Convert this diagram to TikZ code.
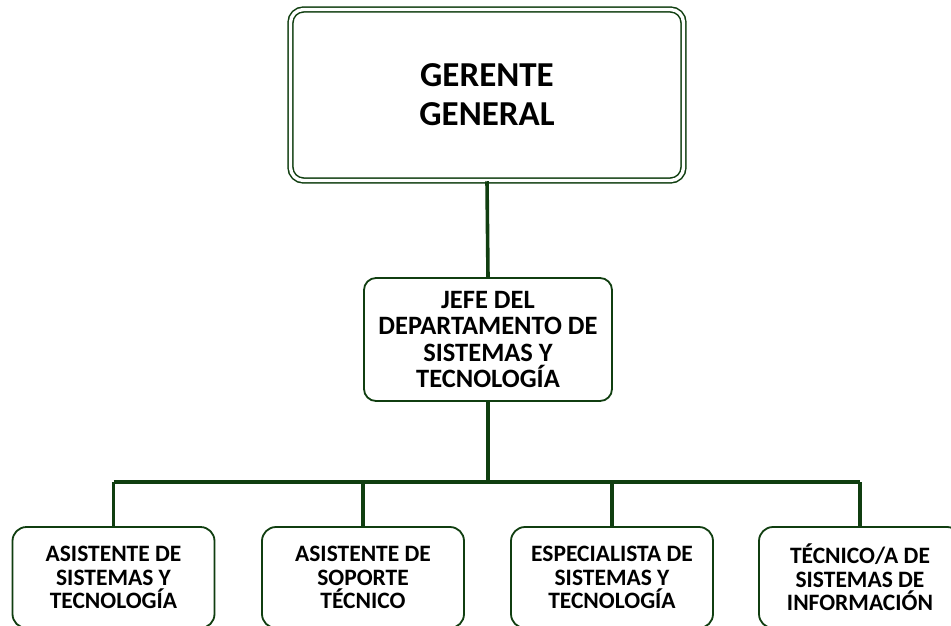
\documentclass[tikz,border=0pt]{standalone}
\usepackage{fontspec}
\setmainfont{Carlito}
\definecolor{verdeorg}{RGB}{16,62,16}
\tikzset{
  cajagerente/.style={draw=verdeorg, double, double distance=3.4pt, line width=1.5pt,
    rounded corners=13pt, minimum width=393pt, minimum height=171pt, inner sep=0pt,
    align=center, font=\fontsize{35}{39}\selectfont\bfseries},
  cajajefe/.style={draw=verdeorg, line width=1.8pt, rounded corners=12pt,
    minimum width=248pt, minimum height=123pt, inner sep=0pt,
    align=center, font=\fontsize{26.5}{26.5}\selectfont\bfseries},
  cajapuesto/.style={draw=verdeorg, line width=1.8pt, rounded corners=14pt,
    minimum width=202pt, minimum height=101pt, inner sep=0pt,
    align=center, font=\fontsize{23.5}{23.5}\selectfont\bfseries},
  conector/.style={draw=verdeorg, line width=3.6pt}
}
\begin{document}
\begin{tikzpicture}[x=1pt,y=-1pt]
\clip (0,0) rectangle (951,626);
\fill[white] (0,0) rectangle (951,626);
% niveles
\node[cajagerente] (gerente) at (487,95) {GERENTE\\GENERAL};
\node[cajajefe] (jefe) at (488,339.5) {JEFE DEL\\DEPARTAMENTO DE\\SISTEMAS Y\\TECNOLOG\'IA};
\node[cajapuesto] (p1) at (113.5,577.5) {ASISTENTE DE\\SISTEMAS Y\\TECNOLOG\'IA};
\node[cajapuesto] (p2) at (363,577.5) {ASISTENTE DE\\SOPORTE\\T\'ECNICO};
\node[cajapuesto] (p3) at (612,577.5) {ESPECIALISTA DE\\SISTEMAS Y\\TECNOLOG\'IA};
\node[cajapuesto] (p4) at (860,577.5) {T\'ECNICO/A DE\\SISTEMAS DE\\INFORMACI\'ON};
\coordinate (barra) at (488,482);
% conectores
\draw[conector] (gerente.south) -- (jefe.north);
\draw[conector] (jefe.south) -- (barra);
\draw[conector] (barra -| p1) -- (barra -| p4);
\foreach \i in {1,...,4} \draw[conector] (barra -| p\i) -- (p\i.north);
\end{tikzpicture}
\end{document}
